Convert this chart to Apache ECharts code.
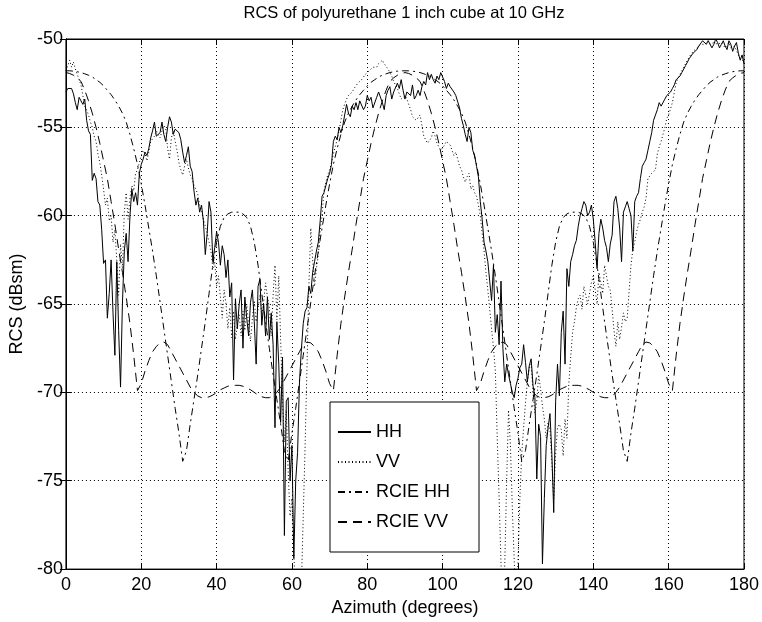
<!DOCTYPE html>
<html>
<head>
<meta charset="utf-8">
<title>RCS of polyurethane 1 inch cube at 10 GHz</title>
<script src="https://cdn.jsdelivr.net/npm/echarts@6/dist/echarts.min.js"></script>
<style>
  html, body { margin: 0; padding: 0; background: #fff; }
  #main { width: 762px; height: 622px; }
</style>
</head>
<body>
<div id="main"></div>
<script>
// measured curves, sampled every 0.5 degree from 0 to 180
var azStep = 0.5;
var hhVal = [
  -53.0,-52.8,-52.7,-52.8,-53.1,-53.6,-54.0,-53.3,-53.2,-53.7,-53.4,-54.6,-55.2,-55.4,-58.0,-57.6,-57.9,-59.2,-59.4,-60.8,
  -62.7,-62.5,-65.8,-64.4,-62.5,-65.5,-67.9,-62.6,-66.5,-69.7,-65.0,-62.0,-61.0,-62.6,-60.0,-58.5,-59.2,-58.7,-59.4,-57.6,
  -57.1,-56.8,-56.4,-56.6,-56.2,-55.6,-55.2,-54.7,-55.5,-55.4,-55.3,-54.7,-55.4,-55.8,-55.0,-54.4,-54.7,-55.4,-55.1,-55.0,
  -55.3,-55.7,-56.4,-57.0,-56.6,-56.1,-57.2,-57.5,-58.6,-59.4,-59.0,-59.8,-59.4,-60.3,-62.2,-61.0,-59.2,-59.8,-62.6,-61.8,
  -60.9,-61.5,-62.8,-61.7,-62.2,-63.5,-62.5,-64.6,-63.8,-69.3,-64.7,-66.4,-65.0,-64.2,-67.5,-64.6,-65.8,-66.8,-64.9,-64.2,
  -66.0,-68.4,-64.0,-63.6,-66.2,-65.0,-66.8,-64.6,-67.0,-65.5,-67.3,-72.0,-66.0,-68.4,-71.7,-68.0,-78.1,-70.5,-70.3,-75.0,
  -73.0,-79.4,-75.0,-73.4,-69.4,-67.6,-66.1,-65.4,-65.2,-64.0,-64.4,-63.2,-62.6,-62.0,-61.5,-60.3,-58.9,-58.7,-58.8,-57.9,
  -57.6,-57.1,-55.8,-55.5,-55.7,-55.0,-55.3,-54.9,-54.8,-53.7,-54.2,-54.4,-53.8,-54.0,-53.6,-54.0,-53.5,-53.4,-54.0,-53.8,
  -53.2,-53.5,-53.3,-53.9,-54.0,-53.3,-53.0,-52.9,-53.6,-54.0,-53.2,-52.9,-52.7,-53.4,-53.0,-52.9,-52.5,-52.8,-52.3,-52.9,
  -53.4,-53.0,-53.1,-53.2,-52.6,-53.4,-53.2,-52.9,-53.2,-52.7,-52.4,-52.6,-51.9,-52.3,-52.0,-52.3,-52.5,-52.1,-52.3,-51.9,
  -52.0,-52.4,-52.8,-52.5,-52.7,-52.7,-53.0,-53.2,-53.3,-53.9,-54.5,-54.9,-55.4,-55.8,-55.0,-55.3,-56.3,-56.6,-57.2,-57.8,
  -59.2,-60.2,-61.5,-62.0,-62.6,-63.7,-64.8,-62.8,-66.6,-65.6,-67.3,-63.7,-67.5,-69.4,-68.4,-69.0,-69.5,-70.0,-70.3,-69.6,
  -69.2,-68.6,-68.4,-67.3,-68.3,-69.4,-68.5,-68.1,-69.6,-70.3,-74.9,-71.8,-72.5,-79.7,-76.0,-73.0,-72.0,-71.2,-73.5,-76.8,
  -70.5,-68.4,-70.2,-66.6,-65.4,-68.4,-63.0,-64.0,-62.6,-62.2,-61.7,-61.4,-60.6,-60.0,-59.6,-59.2,-59.4,-60.0,-59.8,-59.4,
  -60.2,-61.5,-63.0,-61.0,-60.2,-60.7,-61.4,-61.8,-62.6,-61.6,-61.1,-59.2,-58.9,-59.6,-60.7,-62.6,-59.8,-59.5,-59.2,-59.6,
  -60.0,-62.0,-59.2,-58.9,-58.7,-57.9,-57.2,-57.0,-56.8,-56.3,-55.8,-55.3,-54.6,-54.3,-54.0,-53.6,-53.8,-53.8,-53.4,-53.2,
  -53.2,-53.0,-52.8,-52.6,-52.3,-52.3,-52.1,-51.9,-51.8,-51.5,-51.3,-51.1,-51.0,-50.8,-50.7,-50.6,-50.4,-50.3,-50.1,-50.2,
  -50.3,-50.1,-50.1,-50.5,-50.3,-50.0,-50.2,-50.5,-50.3,-50.1,-50.4,-50.6,-50.1,-50.3,-50.7,-50.4,-50.2,-50.8,-51.2,-50.9,
  -51.4
];
var vvVal = [
  -51.8,-51.5,-51.2,-51.6,-51.3,-51.7,-52.0,-52.3,-52.6,-53.2,-53.8,-54.0,-54.3,-54.7,-55.0,-55.5,-55.8,-56.5,-57.0,-57.7,
  -58.5,-59.4,-59.0,-60.3,-60.0,-61.5,-60.8,-62.5,-64.5,-61.6,-63.0,-59.8,-58.7,-60.2,-59.0,-58.3,-58.6,-57.6,-57.4,-57.0,
  -56.6,-56.3,-56.5,-56.9,-56.4,-55.8,-55.7,-55.5,-55.2,-55.3,-55.6,-55.2,-54.9,-55.1,-56.2,-56.8,-55.6,-55.2,-55.8,-56.3,
  -57.0,-57.4,-57.7,-57.2,-56.8,-57.3,-57.7,-57.9,-58.3,-58.5,-58.8,-59.4,-59.7,-60.2,-60.6,-61.0,-61.5,-62.0,-63.0,-62.6,
  -64.0,-63.4,-64.6,-65.8,-64.2,-65.0,-66.4,-65.2,-66.9,-65.4,-67.0,-66.2,-65.6,-66.8,-65.4,-66.5,-65.0,-66.2,-67.1,-65.8,
  -64.8,-66.0,-65.3,-64.5,-65.6,-64.9,-63.8,-64.6,-65.2,-66.8,-64.5,-62.8,-65.9,-63.4,-67.0,-70.4,-72.8,-71.0,-74.5,-77.0,
  -76.0,-79.0,-82.0,-82.0,-82.0,-81.0,-77.0,-73.0,-68.5,-64.0,-60.7,-62.5,-64.0,-63.0,-62.2,-60.8,-60.0,-58.6,-58.1,-57.7,
  -57.4,-57.0,-56.5,-56.1,-55.7,-55.2,-54.6,-54.0,-53.7,-53.4,-53.2,-53.1,-53.0,-52.8,-52.7,-52.5,-52.4,-52.3,-52.2,-52.0,
  -51.9,-51.8,-51.7,-51.6,-51.7,-51.6,-51.4,-51.3,-51.2,-51.4,-51.5,-51.7,-51.9,-52.1,-52.4,-52.6,-52.8,-53.1,-53.4,-53.3,
  -53.2,-53.4,-53.5,-54.0,-54.4,-54.5,-54.6,-54.5,-54.3,-54.9,-55.5,-55.7,-55.9,-56.0,-55.6,-55.2,-55.5,-55.9,-56.1,-56.3,
  -56.2,-56.0,-55.8,-55.7,-56.0,-56.3,-56.6,-56.4,-56.8,-57.2,-57.4,-57.8,-58.1,-57.8,-57.6,-58.5,-58.3,-58.7,-58.9,-59.4,
  -60.0,-61.0,-62.0,-63.2,-64.2,-65.3,-66.4,-67.5,-68.8,-72.6,-76.0,-79.7,-82.0,-79.7,-75.0,-71.0,-73.0,-76.5,-79.5,-82.0,
  -79.7,-76.0,-73.5,-72.0,-70.6,-69.4,-68.6,-68.4,-70.0,-71.2,-70.5,-69.0,-69.8,-70.8,-71.5,-72.6,-71.7,-72.1,-74.0,-76.0,
  -73.5,-72.0,-71.8,-72.1,-73.6,-71.5,-72.6,-69.5,-68.0,-66.6,-66.0,-65.2,-64.7,-64.5,-65.3,-64.0,-64.5,-65.0,-65.0,-63.8,
  -63.4,-64.2,-65.0,-63.2,-63.8,-64.4,-62.8,-63.4,-64.0,-64.2,-65.3,-66.5,-67.4,-66.0,-67.0,-66.3,-65.5,-66.0,-65.8,-64.3,
  -62.8,-61.9,-61.5,-60.9,-60.5,-60.2,-59.8,-59.5,-59.0,-57.9,-57.8,-57.6,-57.5,-57.4,-56.5,-56.1,-55.8,-55.4,-55.0,-54.5,
  -54.3,-54.2,-53.6,-53.0,-52.5,-52.2,-52.0,-51.8,-51.6,-51.4,-51.2,-51.0,-50.9,-50.7,-50.6,-50.5,-50.4,-50.3,-50.2,-50.3,
  -50.2,-50.1,-50.3,-50.4,-50.2,-50.1,-50.3,-50.4,-50.2,-50.3,-50.5,-50.4,-50.2,-50.5,-50.6,-50.4,-50.5,-50.9,-51.1,-51.0,
  -51.3
];

// computed (RCIE) curves, every 1 degree from 0 to 180
var rcieStep = 1;
var rcieHH = [
  -51.80,-51.80,-51.82,-51.85,-51.90,-51.97,-52.05,-52.15,-52.30,-52.45,-52.65,-52.90,-53.15,-53.45,-53.80,-54.20,-54.70,-55.40,-56.20,-57.10,
  -58.20,-59.40,-60.70,-62.00,-63.40,-64.90,-66.40,-67.90,-69.40,-70.90,-72.30,-73.90,-73.30,-71.80,-70.40,-69.00,-67.50,-66.00,-64.40,-62.80,
  -61.50,-60.60,-60.10,-59.90,-59.80,-59.80,-59.80,-59.90,-60.10,-60.60,-61.50,-62.80,-64.40,-66.00,-67.50,-69.00,-70.40,-71.80,-73.30,-73.90,
  -72.30,-70.90,-69.40,-67.90,-66.40,-64.90,-63.40,-62.00,-60.70,-59.40,-58.20,-57.10,-56.20,-55.40,-54.70,-54.20,-53.80,-53.45,-53.15,-52.90,
  -52.65,-52.45,-52.30,-52.15,-52.05,-51.97,-51.90,-51.85,-51.82,-51.80,-51.80,
  -51.80,-51.82,-51.85,-51.90,-51.97,-52.05,-52.15,-52.30,-52.45,-52.65,-52.90,-53.15,-53.45,-53.80,-54.20,-54.70,-55.40,-56.20,-57.10,
  -58.20,-59.40,-60.70,-62.00,-63.40,-64.90,-66.40,-67.90,-69.40,-70.90,-72.30,-73.90,-73.30,-71.80,-70.40,-69.00,-67.50,-66.00,-64.40,-62.80,
  -61.50,-60.60,-60.10,-59.90,-59.80,-59.80,-59.80,-59.90,-60.10,-60.60,-61.50,-62.80,-64.40,-66.00,-67.50,-69.00,-70.40,-71.80,-73.30,-73.90,
  -72.30,-70.90,-69.40,-67.90,-66.40,-64.90,-63.40,-62.00,-60.70,-59.40,-58.20,-57.10,-56.20,-55.40,-54.70,-54.20,-53.80,-53.45,-53.15,-52.90,
  -52.65,-52.45,-52.30,-52.15,-52.05,-51.97,-51.90,-51.85,-51.82,-51.80,-51.80
];
var rcieVV = [
  -51.90,-51.95,-52.05,-52.20,-52.40,-52.90,-53.50,-54.20,-55.00,-55.90,-56.90,-57.90,-59.20,-60.50,-61.90,-63.20,-64.60,-66.10,-67.90,-69.90,
  -69.50,-68.80,-68.20,-67.70,-67.40,-67.20,-67.15,-67.30,-67.70,-68.10,-68.50,-68.90,-69.30,-69.70,-70.00,-70.20,-70.30,-70.30,-70.25,-70.15,
  -70.00,-69.85,-69.75,-69.65,-69.60,-69.60,-69.60,-69.65,-69.75,-69.85,-70.00,-70.15,-70.25,-70.30,-70.30,-70.20,-70.00,-69.70,-69.30,-68.90,
  -68.50,-68.10,-67.70,-67.30,-67.15,-67.20,-67.40,-67.70,-68.20,-68.80,-69.50,-69.90,-67.90,-66.10,-64.60,-63.20,-61.90,-60.50,-59.20,-57.90,
  -56.90,-55.90,-55.00,-54.20,-53.50,-52.90,-52.40,-52.20,-52.05,-51.95,-51.90,
  -51.95,-52.05,-52.20,-52.40,-52.90,-53.50,-54.20,-55.00,-55.90,-56.90,-57.90,-59.20,-60.50,-61.90,-63.20,-64.60,-66.10,-67.90,-69.90,
  -69.50,-68.80,-68.20,-67.70,-67.40,-67.20,-67.15,-67.30,-67.70,-68.10,-68.50,-68.90,-69.30,-69.70,-70.00,-70.20,-70.30,-70.30,-70.25,-70.15,
  -70.00,-69.85,-69.75,-69.65,-69.60,-69.60,-69.60,-69.65,-69.75,-69.85,-70.00,-70.15,-70.25,-70.30,-70.30,-70.20,-70.00,-69.70,-69.30,-68.90,
  -68.50,-68.10,-67.70,-67.30,-67.15,-67.20,-67.40,-67.70,-68.20,-68.80,-69.50,-69.90,-67.90,-66.10,-64.60,-63.20,-61.90,-60.50,-59.20,-57.90,
  -56.90,-55.90,-55.00,-54.20,-53.50,-52.90,-52.40,-52.20,-52.05,-51.95,-51.90
];

var seriesNames = ['HH', 'VV', 'RCIE HH', 'RCIE VV'];
var xTicks = [0, 20, 40, 60, 80, 100, 120, 140, 160, 180];
var yTicks = [-80, -75, -70, -65, -60, -55, -50];

function toPairs(vals, step) {
  return vals.map(function (v, i) { return [i * step, v]; });
}

var font = '"Liberation Sans", Arial, Helvetica, sans-serif';

// top / right axes only carry the inward ticks of the box
var tickAxis = {
  axisLine: { show: true, lineStyle: { color: '#000', width: 1 } },
  axisTick: { show: true, inside: true, length: 6, lineStyle: { color: '#000' } },
  axisLabel: { show: false },
  splitLine: { show: false }
};

var option = {
  animation: false,
  backgroundColor: '#fff',
  title: {
    text: 'RCS of polyurethane 1 inch cube at 10 GHz',
    left: 404,
    textAlign: 'center',
    top: 5,
    padding: 0,
    textStyle: { fontFamily: font, fontSize: 16.5, fontWeight: 'normal', color: '#000' }
  },
  grid: {
    left: 64, right: 18, top: 39, bottom: 49,
    show: true, borderColor: '#000', borderWidth: 1
  },
  legend: {
    orient: 'vertical',
    left: 330,
    top: 402,
    padding: [21, 29, 21, 7],
    itemGap: 12,
    itemWidth: 33,
    itemHeight: 14,
    borderColor: '#000',
    borderWidth: 1,
    borderRadius: 0,
    backgroundColor: '#fff',
    itemStyle: { opacity: 0 },
    textStyle: { fontFamily: font, fontSize: 18, color: '#000' },
    data: seriesNames
  },
  xAxis: [
    {
      type: 'value', min: xTicks[0], max: xTicks[xTicks.length - 1], interval: 20,
      name: 'Azimuth (degrees)', nameLocation: 'middle', nameGap: 24,
      nameTextStyle: { fontFamily: font, fontSize: 18, color: '#000' },
      axisLine: { lineStyle: { color: '#000', width: 1 } },
      axisTick: { inside: true, length: 6, lineStyle: { color: '#000' } },
      axisLabel: { fontFamily: font, fontSize: 18, color: '#000', margin: 7 },
      splitLine: { show: true, lineStyle: { color: '#000', type: [1, 3], width: 1 } }
    },
    Object.assign({ type: 'value', position: 'top', min: 0, max: 180, interval: 20 }, tickAxis)
  ],
  yAxis: [
    {
      type: 'value', min: yTicks[0], max: yTicks[yTicks.length - 1], interval: 5,
      name: 'RCS (dBsm)', nameLocation: 'middle', nameGap: 38,
      nameTextStyle: { fontFamily: font, fontSize: 18, color: '#000' },
      axisLine: { lineStyle: { color: '#000', width: 1 } },
      axisTick: { inside: true, length: 6, lineStyle: { color: '#000' } },
      axisLabel: { fontFamily: font, fontSize: 18, color: '#000', margin: 3 },
      splitLine: { show: true, lineStyle: { color: '#000', type: [1, 3], width: 1 } }
    },
    Object.assign({ type: 'value', position: 'right', min: -80, max: -50, interval: 5 }, tickAxis)
  ],
  series: [
    {
      name: seriesNames[0], type: 'line', data: toPairs(hhVal, azStep),
      symbol: 'none', clip: true, z: 4,
      lineStyle: { color: '#000', width: 1, type: 'solid' }, itemStyle: { color: '#000' }
    },
    {
      name: seriesNames[1], type: 'line', data: toPairs(vvVal, azStep),
      symbol: 'none', clip: true, z: 3,
      lineStyle: { color: '#000', width: 1, type: [1, 2.5] }, itemStyle: { color: '#000' }
    },
    {
      name: seriesNames[2], type: 'line', data: toPairs(rcieHH, rcieStep),
      symbol: 'none', clip: true, z: 2,
      lineStyle: { color: '#000', width: 1, type: [7, 4, 2, 4] }, itemStyle: { color: '#000' }
    },
    {
      name: seriesNames[3], type: 'line', data: toPairs(rcieVV, rcieStep),
      symbol: 'none', clip: true, z: 2,
      lineStyle: { color: '#000', width: 1, type: [9, 6] }, itemStyle: { color: '#000' }
    }
  ]
};

var chart = echarts.init(document.getElementById('main'));
chart.setOption(option);
</script>
</body>
</html>
